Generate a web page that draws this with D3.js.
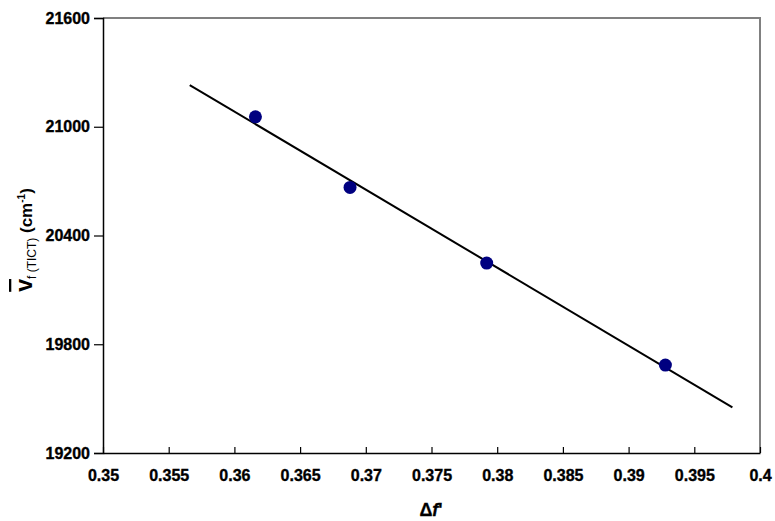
<!DOCTYPE html>
<html>
<head>
<meta charset="utf-8">
<script src="https://cdn.jsdelivr.net/npm/d3@7"></script>
<style>
  body { margin: 0; background: #fff; }
  svg text { font-family: "Liberation Sans", Arial, sans-serif; }
</style>
</head>
<body>
<div class="graph"></div>
<script>
// measured points (solvatochromic shift vs orientation polarizability)
var deltaF = [0.3616, 0.3688, 0.3792, 0.3928];
var nuTict = [21055, 20665, 20248, 19685];

var fitX = [0.3566, 0.3979];
var fitY = [21230, 19452];

var xTicks = [0.35, 0.355, 0.36, 0.365, 0.37, 0.375, 0.38, 0.385, 0.39, 0.395, 0.4];
var yTicks = [19200, 19800, 20400, 21000, 21600];

var WIDTH = 775, HEIGHT = 521;
var margin = {left: 103, right: 15, top: 18, bottom: 68};

var svg = d3.select('.graph')
  .append('svg')
  .attr('width', WIDTH)
  .attr('height', HEIGHT);

var x = d3.scaleLinear().domain([0.35, 0.4]).range([margin.left, WIDTH - margin.right]);
var y = d3.scaleLinear().domain([19200, 21600]).range([HEIGHT - margin.bottom, margin.top]);

// grey frame on top and right
svg.append('path')
  .attr('d', 'M' + x(0.35) + ',' + y(21600) + 'H' + x(0.4) + 'V' + y(19200))
  .attr('fill', 'none')
  .attr('stroke', '#808080')
  .attr('stroke-width', 2);

// x axis - ticks point inward
var xAxis = svg.append('g')
  .attr('transform', 'translate(0,' + y(19200) + ')')
  .call(d3.axisBottom(x).tickValues(xTicks).tickSizeInner(-6).tickSizeOuter(0)
    .tickFormat(function(d) { return d3.format('')(+d.toFixed(3)); }));
xAxis.select('.domain').attr('stroke', '#000').attr('stroke-width', 1.5);
xAxis.selectAll('.tick line').attr('stroke', '#000').attr('stroke-width', 1.2);
xAxis.selectAll('.tick text')
  .attr('y', 17)
  .attr('fill', '#000')
  .attr('stroke', '#000')
  .attr('stroke-width', 0.35)
  .style('font-size', '16px')
  .style('font-weight', 'bold');

// y axis - ticks point outward
var yAxis = svg.append('g')
  .attr('transform', 'translate(' + x(0.35) + ',0)')
  .call(d3.axisLeft(y).tickValues(yTicks).tickSize(9).tickFormat(d3.format('d')));
yAxis.select('.domain').attr('stroke', '#000').attr('stroke-width', 1.5);
yAxis.selectAll('.tick line').attr('stroke', '#000').attr('stroke-width', 1.2);
yAxis.selectAll('.tick text')
  .attr('x', -13)
  .attr('fill', '#000')
  .attr('stroke', '#000')
  .attr('stroke-width', 0.35)
  .style('font-size', '16px')
  .style('font-weight', 'bold');

// fit line
svg.append('line')
  .attr('x1', x(fitX[0])).attr('y1', y(fitY[0]))
  .attr('x2', x(fitX[1])).attr('y2', y(fitY[1]))
  .attr('stroke', '#000')
  .attr('stroke-width', 2);

// data markers
svg.selectAll('circle.pt')
  .data(deltaF)
  .enter()
  .append('circle')
  .attr('class', 'pt')
  .attr('cx', function(d) { return x(d); })
  .attr('cy', function(d, i) { return y(nuTict[i]); })
  .attr('r', 6.5)
  .attr('fill', '#000080');

// x title
var xt = svg.append('text')
  .attr('x', 431)
  .attr('y', 516)
  .attr('text-anchor', 'middle')
  .attr('stroke', '#000')
  .attr('stroke-width', 0.3)
  .style('font-size', '18px')
  .style('font-weight', 'bold');
xt.append('tspan').text('\u0394');
xt.append('tspan').style('font-style', 'italic').text("f");
xt.append('tspan').text("'");

// y title, rotated
var yt = svg.append('text')
  .attr('transform', 'translate(32,240) rotate(-90)')
  .attr('text-anchor', 'middle')
  .style('font-size', '17px')
  .style('font-weight', 'bold');
yt.append('tspan').style('font-size', '23px').style('text-decoration', 'overline').text('v');
yt.append('tspan').style('font-size', '12px').style('font-weight', 'normal').attr('dy', 4).text('f (TICT)');
yt.append('tspan').attr('dy', -4).text(' (cm');
yt.append('tspan').style('font-size', '10px').attr('dy', -7).text('-1');
yt.append('tspan').attr('dy', 7).text(')');
</script>
</body>
</html>
